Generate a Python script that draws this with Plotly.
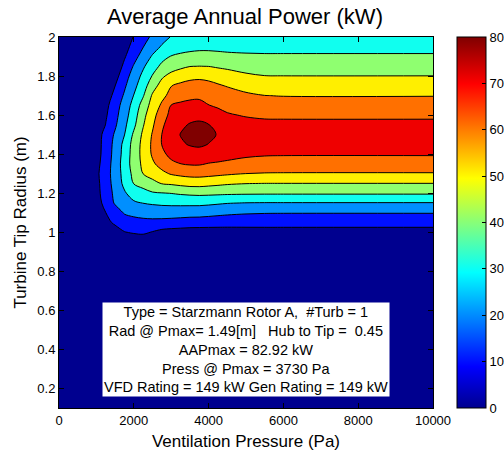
import plotly.graph_objects as go

# ---------------- data ----------------
pressure_pa = [0, 800, 1000, 1250, 1500, 1750, 2000, 2250, 2500, 2750, 3000,
               3250, 3500, 3750, 4000, 4250, 4500, 5000, 5500, 6000, 10000]
tip_radius_m = [0.1, 0.95, 1.0, 1.05, 1.1, 1.15, 1.2, 1.25, 1.3, 1.35, 1.4, 1.45,
                1.5, 1.55, 1.6, 1.65, 1.7, 1.75, 1.8, 1.85, 1.9, 1.95, 2.0]

# Average annual power (kW), one list per tip radius (rows), columns = pressure_pa
aap_r010 = [0] * 21
aap_r095 = [0, 0, 0, 0, 0, 1, 3, 4, 2, 1, 0.5, 0, 0, 0, 0, 0, 0, 0, 0, 0, 0]
aap_r100 = [0, 0, 0, 2, 6, 9.6, 11, 11.5, 9.5, 7.2, 6.3, 5.8, 5.4, 5.3, 5.4, 5.6, 5.8, 6.2, 6.4, 6.4, 6.4]
aap_r105 = [0, 0, 0.5, 7.5, 11.5, 15.3, 16.6, 17.1, 17, 16.7, 16.3, 15.8, 15.2, 15, 14.6, 14.2, 13.9, 13.6, 13.5, 13.5, 13.5]
aap_r110 = [0, 0, 3, 9.9, 15.4, 20.8, 22.5, 23.8, 25, 25.2, 24.9, 24.5, 24.1, 24, 23.3, 22.5, 21.8, 20.9, 20.5, 20.4, 20.4]
aap_r115 = [0, 0, 5, 13.8, 21, 25, 28.6, 30.2, 31, 31.6, 32, 32.2, 32.3, 32.3, 31.8, 31.1, 30.4, 29.8, 29.6, 29.6, 29.6]
aap_r120 = [0, 0, 6.7, 14.8, 22.2, 28.8, 34.5, 36.5, 39, 39.6, 40.2, 41.2, 41.9, 42.3, 42.1, 41.8, 41.5, 41.2, 41.1, 41.1, 41.1]
aap_r125 = [0, 0.7, 7.2, 15.2, 23.6, 32.4, 40.3, 43.6, 47.4, 50.4, 51.3, 52.6, 53.7, 53.8, 52.9, 52, 51.1, 50.2, 49.9, 49.9, 49.9]
aap_r130 = [0, 1.3, 7.8, 15.8, 24.2, 33.5, 42.7, 50.1, 53.5, 57.8, 60.8, 62.3, 63.2, 63.4, 62.8, 62, 61.2, 59.9, 59.5, 59.4, 59.4]
aap_r135 = [0, 1.5, 6.8, 15.1, 24.1, 34.5, 44.3, 52.1, 58.6, 63.3, 68, 69.9, 70.8, 70.9, 69.5, 68.8, 68, 66.5, 65.7, 65.5, 65.5]
aap_r140 = [0, 1.5, 5.8, 14.4, 23.3, 33.6, 44.3, 53.1, 61.2, 67.9, 72.5, 75, 76.3, 76.7, 76, 74.8, 73.6, 71.8, 71, 70.8, 70.8]
aap_r145 = [0, 1.2, 5.6, 14, 22.8, 32.8, 43.8, 53, 61.7, 70.2, 75.5, 78.8, 80.6, 81.3, 79.8, 78.2, 76.5, 74.6, 73.9, 73.8, 73.8]
aap_r150 = [0, 1, 5.3, 13.3, 21.3, 29.8, 41.7, 51.8, 60.8, 70.1, 75.5, 80.3, 82, 82.9, 81.5, 79.6, 77.8, 75.5, 74.6, 74.5, 74.5]
aap_r155 = [0, 0, 1.9, 10.3, 18.6, 27.8, 37.8, 49.3, 58.6, 68.3, 75, 78.5, 80.6, 81.3, 80.2, 78, 76, 73.5, 72.6, 72.5, 72.5]
aap_r160 = [0, 0, 0.5, 8.8, 17, 25.9, 35.5, 47.3, 56.3, 65.8, 72.5, 75.5, 77.3, 78, 76.5, 73.8, 71, 69.2, 68.3, 68.2, 68.2]
aap_r165 = [0, 0, 0, 7.4, 15.5, 24.1, 33.5, 44, 54, 61.5, 70.3, 72, 73, 73, 70.2, 68.5, 67, 65, 64, 63.9, 63.9]
aap_r170 = [0, 0, 0, 4.6, 12.9, 21.3, 30.3, 39.2, 51.3, 57.5, 62.8, 66, 67.5, 68, 67.3, 65.7, 64, 61.5, 60.1, 59.7, 59.7]
aap_r175 = [0, 0, 0, 1, 9.9, 18.5, 27.2, 35.7, 45.8, 53.8, 59.8, 61.8, 62.8, 63.1, 62.5, 61, 59.5, 57, 55.3, 55, 54.9]
aap_r180 = [0, 0, 0, 0, 6.5, 15.7, 24.3, 32.5, 40.6, 48.4, 53, 56, 57.8, 58.3, 57.5, 56, 54.3, 51.5, 50.2, 50.1, 50.1]
aap_r185 = [0, 0, 0, 0, 3.4, 12.2, 20.8, 28.6, 36, 42, 45.5, 47.8, 49.8, 50.1, 49.9, 48.8, 48, 46.5, 45.8, 45.7, 45.7]
aap_r190 = [0, 0, 0, 0, 1.4, 9, 16.5, 24, 31.1, 37, 40.5, 42, 42.8, 43, 43, 42.5, 42, 41.5, 41.3, 41.3, 41.3]
aap_r195 = [0, 0, 0, 0, 0, 6.5, 13.1, 19.7, 25.7, 31, 34, 36, 37.2, 38, 38, 37.8, 37.5, 37.2, 37, 37, 37]
aap_r200 = [0, 0, 0, 0, 0, 4.6, 10.5, 16.3, 21.8, 26.4, 30.5, 32.3, 33.5, 34, 34, 33.8, 33.5, 33.2, 33, 33, 33]

power_kw = [aap_r010, aap_r095, aap_r100, aap_r105, aap_r110, aap_r115, aap_r120,
            aap_r125, aap_r130, aap_r135, aap_r140, aap_r145, aap_r150, aap_r155,
            aap_r160, aap_r165, aap_r170, aap_r175, aap_r180, aap_r185, aap_r190,
            aap_r195, aap_r200]

x_ticks = [0, 2000, 4000, 6000, 8000, 10000]
x_tick_labels = ["0", "2000", "4000", "6000", "8000", "10000"]
y_ticks = [0.2, 0.4, 0.6, 0.8, 1.0, 1.2, 1.4, 1.6, 1.8, 2.0]
y_tick_labels = ["0.2", "0.4", "0.6", "0.8", "1", "1.2", "1.4", "1.6", "1.8", "2"]
cbar_ticks = [0, 10, 20, 30, 40, 50, 60, 70, 80]

info_lines = [
    "Type = Starzmann Rotor A,\u00a0\u00a0#Turb = 1",
    "Rad @ Pmax= 1.49[m]\u00a0\u00a0\u00a0Hub to Tip =\u00a0\u00a00.45",
    "AAPmax = 82.92 kW",
    "Press @ Pmax = 3730 Pa",
    "VFD Rating = 149 kW Gen Rating = 149 kW",
]

# ---------------- styling ----------------
def jet64():
    m = 64
    n = 16
    u = [(i + 1) / n for i in range(n)] + [1.0] * (n - 1) + [(n - i) / n for i in range(n)]
    g0 = n // 2
    cols = [[0.0, 0.0, 0.0] for _ in range(m)]
    for j, val in enumerate(u):
        gi = g0 + j
        ri = gi + n
        bi = gi - n
        if 0 <= ri < m:
            cols[ri][0] = val
        if 0 <= gi < m:
            cols[gi][1] = val
        if 0 <= bi < m:
            cols[bi][2] = val
    return cols

J = jet64()
def rgb(c):
    return "rgb(%d,%d,%d)" % tuple(round(255 * v) for v in c)

jet_scale = [[i / 63, rgb(J[i])] for i in range(64)]
band_idx = [0, 8, 16, 24, 32, 40, 48, 56, 63]
band_scale = [[k / 8, rgb(J[band_idx[k]])] for k in range(9)]

FONT = "Arial, Liberation Sans, Helvetica, sans-serif"

PL, PR, PT, PB = 59, 433, 37, 408
W, H = 504, 453

fig = go.Figure()
fig.add_trace(go.Contour(
    x=pressure_pa, y=tip_radius_m, z=power_kw,
    autocontour=False,
    contours=dict(start=10, end=80, size=10, coloring="fill", showlines=True),
    colorscale=band_scale,
    line=dict(color="black", width=1, smoothing=1),
    showscale=False,
    hoverinfo="skip",
))
# colorbar carrier
fig.add_trace(go.Scatter(
    x=[None], y=[None], mode="markers", showlegend=False, hoverinfo="skip",
    marker=dict(color=[0], cmin=0, cmax=80, colorscale=jet_scale, showscale=True,
                colorbar=dict(x=(457 - PL) / (PR - PL), xanchor="left", xpad=0, ypad=0,
                              y=0.5, yanchor="middle", len=1, lenmode="fraction",
                              thickness=29, outlinewidth=1, outlinecolor="black",
                              tickvals=cbar_ticks, ticks="inside", ticklen=4,
                              tickcolor="black",
                              tickfont=dict(family=FONT, size=13, color="black"))),
))

fig.add_annotation(
    x=5000, y=0.4, xref="x", yref="y",
    text="<br>".join(info_lines), showarrow=False,
    font=dict(family=FONT, size=14.5, color="black"),
    bgcolor="white", borderpad=1, align="center",
)

fig.update_layout(
    width=W, height=H,
    margin=dict(l=PL, r=W - PR, t=PT, b=H - PB, autoexpand=False),
    paper_bgcolor="white", plot_bgcolor="white",
    font=dict(family=FONT, color="black"),
    title=dict(text="Average Annual Power (kW)", x=245 / W, xanchor="center",
               y=1 - 16 / H, yanchor="middle",
               font=dict(family=FONT, size=22, color="black")),
)
fig.update_xaxes(range=[0, 10000], tickvals=x_ticks, ticktext=x_tick_labels,
                 ticks="inside", ticklen=5,
                 tickcolor="black", showline=True, linecolor="black", linewidth=1,
                 mirror="ticks", showgrid=False, zeroline=False,
                 tickfont=dict(family=FONT, size=13, color="black"),
                 title=dict(text="Ventilation Pressure (Pa)",
                            font=dict(family=FONT, size=17, color="black"), standoff=8))
fig.update_yaxes(range=[0.1, 2], tickvals=y_ticks, ticktext=y_tick_labels,
                 ticks="inside", ticklen=5,
                 tickcolor="black", showline=True, linecolor="black", linewidth=1,
                 mirror="ticks", showgrid=False, zeroline=False,
                 tickfont=dict(family=FONT, size=13, color="black"),
                 title=dict(text="Turbine Tip Radius (m)",
                            font=dict(family=FONT, size=17, color="black"), standoff=6))

fig.write_html("out.html")
